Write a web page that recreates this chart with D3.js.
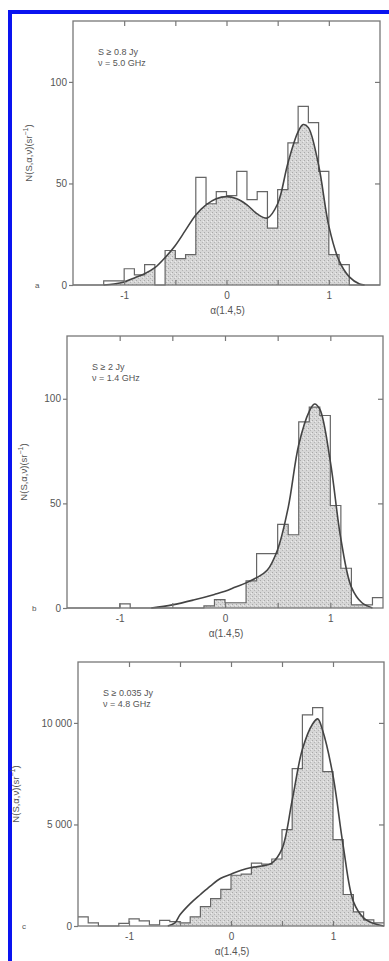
<!DOCTYPE html>
<html>
<head>
<meta charset="utf-8">
<script src="https://cdn.jsdelivr.net/npm/d3@7"></script>
<style>
  body { margin: 0; background: #fff; }
  svg text { font-family: "Liberation Sans", Arial, sans-serif; fill: #555; }
</style>
</head>
<body>
<svg id="chart" width="389" height="961"></svg>
<script>
// bin left edges (width 0.1) shared by all three histograms
const binEdges = [-1.5, -1.4, -1.3, -1.2, -1.1, -1.0, -0.9, -0.8, -0.7, -0.6,
                  -0.5, -0.4, -0.3, -0.2, -0.1, 0.0, 0.1, 0.2, 0.3, 0.4,
                  0.5, 0.6, 0.7, 0.8, 0.9, 1.0, 1.1, 1.2, 1.3, 1.4];

// panel a : S >= 0.8 Jy, 5.0 GHz
const histA = [0, 0, 0, 2, 2, 8, 5, 10, 0, 17,
               13, 15, 53, 40, 46, 44, 56, 42, 46, 28,
               47, 70, 88, 80, 56, 15, 10, 0, 0, 0];
const curveAx = [-1.2, -1.1, -1.0, -0.9, -0.8, -0.7, -0.6, -0.5, -0.4, -0.3, -0.2, -0.1, 0,
                 0.1, 0.2, 0.3, 0.4, 0.5, 0.6, 0.7, 0.75, 0.8, 0.9, 1.0, 1.1, 1.2, 1.3, 1.35];
const curveAy = [0, 0.5, 1.5, 3.5, 5.5, 8.5, 13.5, 19.5, 27, 34.5, 39.5, 42.5, 43.5,
                 42.5, 39.5, 35, 33, 40, 60, 75.5, 79, 77.5, 59, 29, 12, 4, 0.5, 0];

// panel b : S >= 2 Jy, 1.4 GHz
const histB = [0, 0, 0, 0, 0, 2, 0, 0, 0, 0,
               0, 0, 0, 1, 4, 2.5, 2.5, 13, 26, 26,
               40, 35, 89, 96, 92, 49, 19, 1.5, 1.5, 5];
const curveBx = [-0.7, -0.5, -0.3, -0.1, 0, 0.1, 0.2, 0.3, 0.4, 0.5, 0.6, 0.7,
                 0.8, 0.85, 0.9, 1.0, 1.1, 1.2, 1.3, 1.4];
const curveBy = [0, 1.5, 3.8, 6.5, 8, 10, 12, 14.5, 18, 28, 48, 78,
                 94, 97.5, 95, 70, 33, 10, 2.5, 0];

// panel c : S >= 0.035 Jy, 4.8 GHz
const histC = [450, 150, 0, 0, 130, 350, 250, 60, 280, 220,
               150, 450, 950, 1350, 1800, 2500, 2550, 3100, 3050, 3300,
               4750, 7750, 10400, 10750, 7600, 4250, 1550, 700, 300, 150];
const curveCx = [-0.62, -0.55, -0.5, -0.4, -0.3, -0.2, -0.1, 0, 0.1, 0.2, 0.3, 0.4,
                 0.5, 0.6, 0.7, 0.8, 0.85, 0.9, 1.0, 1.1, 1.2, 1.3, 1.4, 1.5];
const curveCy = [0, 150, 550, 1100, 1550, 1980, 2350, 2550, 2750, 2880, 2950, 3100,
                 3800, 6200, 8700, 9950, 10200, 9600, 7400, 3950, 1200, 400, 120, 0];

const xTicks = [-1, -0.5, 0, 0.5, 1];
const yTicksAB = [0, 50, 100];
const yTicksC = [0, 5000, 10000];
const yLabelsC = ["0", "5 000", "10 000"];

const panels = [
  { id: "a", hist: histA, cx: curveAx, cy: curveAy, yMax: 130, yTicks: yTicksAB, yLabels: ["0", "50", "100"],
    notes: ["S \u2265 0.8 Jy", "\u03bd = 5.0 GHz"],
    box: { left: 73, right: 380, top: 21, bottom: 285 }, ylabX: 32, letterX: 35 },
  { id: "b", hist: histB, cx: curveBx, cy: curveBy, yMax: 130, yTicks: yTicksAB, yLabels: ["0", "50", "100"],
    notes: ["S \u2265 2 Jy", "\u03bd = 1.4 GHz"],
    box: { left: 67, right: 383, top: 336, bottom: 608 }, ylabX: 27, letterX: 32 },
  { id: "c", hist: histC, cx: curveCx, cy: curveCy, yMax: 13000, yTicks: yTicksC, yLabels: yLabelsC,
    notes: ["S \u2265 0.035 Jy", "\u03bd = 4.8 GHz"],
    box: { left: 78, right: 384, top: 662, bottom: 926 }, ylabX: 19, letterX: 22 }
];

const svg = d3.select("#chart");
const ink = "#555";

// stipple texture for the shaded part of the histograms
const pat = svg.append("defs").append("pattern")
  .attr("id", "stipple")
  .attr("width", 4).attr("height", 4)
  .attr("patternUnits", "userSpaceOnUse");
pat.append("rect").attr("width", 4).attr("height", 4).attr("fill", "#d6d6d6");
pat.append("rect").attr("x", 0).attr("y", 0).attr("width", 1).attr("height", 1).attr("fill", "#a8a8a8");
pat.append("rect").attr("x", 2).attr("y", 2).attr("width", 1).attr("height", 1).attr("fill", "#b4b4b4");
pat.append("rect").attr("x", 3).attr("y", 1).attr("width", 1).attr("height", 1).attr("fill", "#ececec");

// blue scan border (right and bottom edges fall outside the picture)
svg.append("rect")
  .attr("x", 10).attr("y", 12)
  .attr("width", 400).attr("height", 960)
  .attr("fill", "none")
  .attr("stroke", "#0a14f0")
  .attr("stroke-width", 4);

panels.forEach((p, i) => {
  const b = p.box;
  const x = d3.scaleLinear().domain([-1.5, 1.5]).range([b.left, b.right]);
  const y = d3.scaleLinear().domain([0, p.yMax]).range([b.bottom, b.top]);
  const g = svg.append("g");

  // histogram as step series, closing at the right edge
  const steps = binEdges.map((e, k) => ({ x: e, v: p.hist[k] }));
  steps.push({ x: 1.5, v: p.hist[p.hist.length - 1] });

  const curvePts = p.cx.map((v, k) => ({ x: v, v: p.cy[k] }));

  // shading only where histogram lies under the fitted curve
  const clipId = "under" + p.id;
  g.append("clipPath").attr("id", clipId)
    .append("path")
    .attr("d", d3.area()
      .x(d => x(d.x)).y0(y(0)).y1(d => y(d.v))
      .curve(d3.curveCatmullRom)(curvePts));

  g.append("path")
    .attr("clip-path", `url(#${clipId})`)
    .attr("fill", "url(#stipple)")
    .attr("d", d3.area()
      .x(d => x(d.x)).y0(y(0)).y1(d => y(d.v))
      .curve(d3.curveStepAfter)(steps));

  g.append("path")
    .attr("fill", "none")
    .attr("stroke", "#666")
    .attr("stroke-width", 1.2)
    .attr("d", d3.line()
      .x(d => x(d.x)).y(d => y(d.v))
      .curve(d3.curveStepAfter)(steps));

  g.append("path")
    .attr("fill", "none")
    .attr("stroke", "#444")
    .attr("stroke-width", 1.6)
    .attr("d", d3.line()
      .x(d => x(d.x)).y(d => y(d.v))
      .curve(d3.curveCatmullRom)(curvePts));

  // frame
  g.append("rect")
    .attr("x", b.left).attr("y", b.top)
    .attr("width", b.right - b.left).attr("height", b.bottom - b.top)
    .attr("fill", "none").attr("stroke", "#777").attr("stroke-width", 1.3);

  const fmtX = d => Number.isInteger(d) ? (d < 0 ? "-" + Math.abs(d) : String(d)) : "";

  g.append("g")
    .attr("transform", `translate(0,${b.bottom})`)
    .call(d3.axisBottom(x).tickValues(xTicks).tickSizeInner(-5).tickSizeOuter(0)
      .tickPadding(7).tickFormat(fmtX));
  g.append("g")
    .attr("transform", `translate(0,${b.top})`)
    .call(d3.axisTop(x).tickValues(xTicks).tickSizeInner(-5).tickSizeOuter(0).tickFormat(""));

  g.append("g")
    .attr("transform", `translate(${b.left},0)`)
    .call(d3.axisLeft(y).tickValues(p.yTicks).tickSizeInner(4).tickSizeOuter(0)
      .tickPadding(2).tickFormat((d, k) => p.yLabels[k]));
  g.append("g")
    .attr("transform", `translate(${b.right},0)`)
    .call(d3.axisRight(y).tickValues(p.yTicks.slice(1)).tickSizeInner(-5).tickSizeOuter(0).tickFormat(""));

  g.selectAll(".domain").remove();
  g.selectAll(".tick line").attr("stroke", "#777").attr("stroke-width", 1.2);
  g.selectAll(".tick text").attr("font-size", 10).attr("fill", ink);

  // axis titles
  g.append("text")
    .attr("x", (b.left + b.right) / 2 + 1)
    .attr("y", b.bottom + 29)
    .attr("text-anchor", "middle")
    .attr("font-size", 10)
    .text("\u03b1(1.4,5)");

  g.append("text")
    .attr("transform", `translate(${p.ylabX},${(b.top + b.bottom) / 2}) rotate(-90)`)
    .attr("text-anchor", "middle")
    .attr("font-size", 9.5)
    .html("N(S,\u03b1,\u03bd)(sr<tspan dy='-4' font-size='7'>\u22121</tspan><tspan dy='4'>)</tspan>");

  // panel letter
  g.append("text")
    .attr("x", p.letterX).attr("y", b.bottom + 3)
    .attr("font-size", 8)
    .text(p.id);

  // annotation
  p.notes.forEach((t, k) => {
    g.append("text")
      .attr("x", b.left + 25)
      .attr("y", b.top + 34 + k * 11)
      .attr("font-size", 9)
      .text(t);
  });
});
</script>
</body>
</html>
